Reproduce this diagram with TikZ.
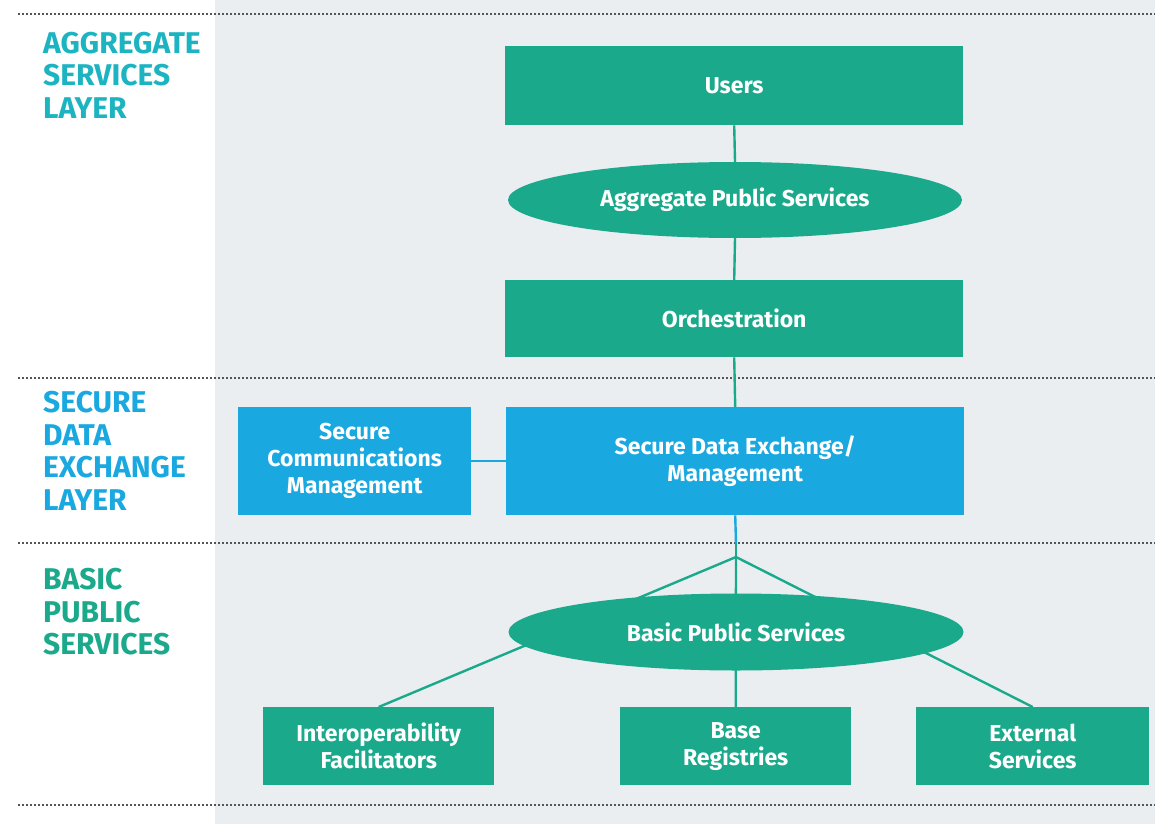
\documentclass[tikz,border=0pt]{standalone}
\usepackage{fontspec}
\setmainfont{Fira Sans}
\usetikzlibrary{shapes.geometric}
\definecolor{teal1}{HTML}{1AA98B}
\definecolor{blue1}{HTML}{1AA8E0}
\definecolor{aggc}{HTML}{1DB4C2}
\definecolor{bgc}{HTML}{EAEEF1}
\definecolor{dotc}{HTML}{555555}
\tikzset{
  gbox/.style={fill=teal1, text=white, font=\fontsize{23}{27}\selectfont\bfseries, align=center, inner sep=0pt, anchor=north west},
  bbox/.style={gbox, fill=blue1},
  gell/.style={ellipse, fill=teal1, text=white, font=\fontsize{23}{27}\selectfont\bfseries, inner sep=0pt},
  conn/.style={line width=2.4pt, draw=teal1},
  bconn/.style={line width=2.4pt, draw=blue1},
  sep/.style={draw=dotc, line width=2pt, dash pattern=on 1.6pt off 2.4pt},
  lay/.style={anchor=north west, align=left, font=\fontsize{30}{32.5}\selectfont\bfseries, inner sep=0pt},
}
\begin{document}
\begin{tikzpicture}[x=1pt,y=-1pt]
\useasboundingbox (0,0) rectangle (1155,824);
\fill[white] (0,0) rectangle (1155,824);
\fill[bgc] (215,0) rectangle (1155,824);
% separators
\draw[sep] (18,14) -- (1155,14);
\draw[sep] (18,378) -- (1155,378);
\draw[sep] (18,543) -- (1155,543);
\draw[sep] (18,805) -- (1155,805);
% layer labels
\node[lay, text=aggc] (l1) at (43,32) {AGGREGATE\\SERVICES\\LAYER};
\node[lay, text=blue1] (l2) at (43,391) {SECURE\\DATA\\EXCHANGE\\LAYER};
\node[lay, text=teal1] (l3) at (43,568) {BASIC\\PUBLIC\\SERVICES};
% nodes
\node[gbox, minimum width=458pt, minimum height=79pt] (users) at (505,46) {Users};
\node[gell, minimum width=454pt, minimum height=76pt] (aps) at (735,200) {Aggregate Public Services};
\node[gbox, minimum width=458pt, minimum height=77pt] (orch) at (505,280) {Orchestration};
\node[bbox, minimum width=458pt, minimum height=108pt] (sde) at (506,407) {Secure Data Exchange/\\Management};
\node[bbox, minimum width=233pt, minimum height=108pt] (scm) at (238,407) {Secure\\Communications\\Management};
\node[gbox, minimum width=231pt, minimum height=78pt] (inter) at (263,707) {Interoperability\\Facilitators};
\node[gbox, minimum width=231pt, minimum height=78pt] (base) at (620,707) {Base\\Registries};
\node[gbox, minimum width=233pt, minimum height=78pt] (ext) at (916,707) {External\\Services};
\coordinate (sep2) at (736,543);
\coordinate (junc) at (736,557);
% connectors
\draw[conn] (users.south) -- (aps.north);
\draw[conn] (aps.south) -- (orch.north);
\draw[conn] (orch.south) -- (sde.north);
\draw[bconn] (scm.east) -- (sde.west);
\draw[bconn] (sde.south) -- (sep2);
\draw[conn] (sep2) -- (junc);
\draw[conn] (junc) -- (inter.north);
\draw[conn] (junc) -- (ext.north);
\draw[conn] (junc) -- (base.north);
% ellipse drawn over the connectors
\node[gell, minimum width=455pt, minimum height=77pt] (bps) at (736,632) {Basic Public Services};
\end{tikzpicture}
\end{document}
